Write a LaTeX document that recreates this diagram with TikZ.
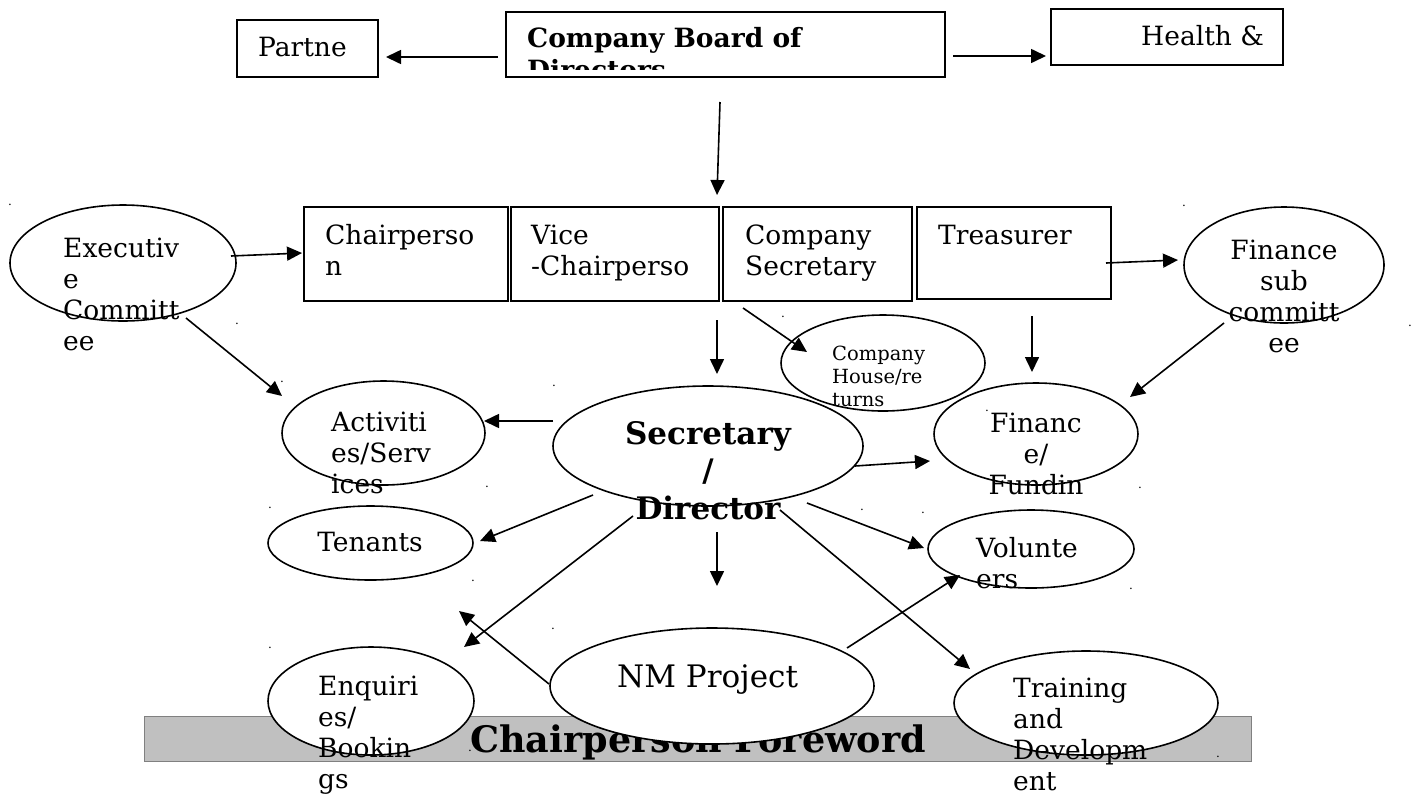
\documentclass[tikz,border=0pt]{standalone}
\usepackage{fontspec}
\setmainfont{DejaVu Serif}
\usetikzlibrary{shapes.geometric,arrows.meta}
\newcommand\strutA{\rule{0pt}{24pt}}
\newcommand\strutB{\rule{0pt}{18pt}}
\newcommand\strutC{\rule{0pt}{28pt}}
\newcommand\strutD{\rule{0pt}{32pt}}
\definecolor{barfill}{RGB}{192,192,192}
\definecolor{barline}{RGB}{128,128,128}
\begin{document}
\begin{tikzpicture}[x=1pt,y=-1pt,
  box/.style={draw, line width=2pt, inner sep=0pt},
  ell/.style={draw, ellipse, fill=white, line width=1.6pt, inner sep=0pt},
  arr/.style={line width=1.6pt, -{Triangle[length=15pt,width=14pt]}},
  lbl/.style={inner sep=0pt, anchor=north west, align=left, font=\fontsize{26.5}{31}\selectfont},
  clbl/.style={lbl, anchor=north, align=center},
  dotm/.style={inner sep=0pt, anchor=base, font=\fontsize{12}{12}\selectfont},
]
\useasboundingbox (0,0) rectangle (1423,796);

% bar
\node[draw=barline, fill=barfill, line width=1pt, minimum width=1107, minimum height=45, inner sep=0pt] (bar) at (697.5,738.5) {};
\node[clbl, font=\fontsize{36.5}{40}\selectfont\bfseries] (bartxt) at (698,720) {\strutD Chairperson Foreword};

% boxes
\node[box, minimum width=141, minimum height=57] (partne) at (307.5,48.5) {};
\node[box, minimum width=439, minimum height=65] (board) at (725.5,44.5) {};
\node[box, minimum width=232, minimum height=56] (health) at (1167,37) {};
\node[box, minimum width=204, minimum height=94] (chair) at (406,254) {};
\node[box, minimum width=208, minimum height=94] (vice) at (615,254) {};
\node[box, minimum width=189, minimum height=94] (cosec) at (817.5,254) {};
\node[box, minimum width=194, minimum height=92] (treas) at (1014,253) {};

% ellipses
\node[ell, minimum width=226, minimum height=116] (exec) at (123,263) {};
\node[ell, minimum width=200, minimum height=116] (finsub) at (1284,265) {};
\node[ell, minimum width=310, minimum height=120] (secdir) at (708,446) {};
\node[ell, minimum width=204, minimum height=96] (cohouse) at (883,363) {};
\node[ell, minimum width=204, minimum height=102] (finfund) at (1036,434) {};
\node[ell, minimum width=203, minimum height=104] (activ) at (383.5,433) {};
\node[ell, minimum width=205, minimum height=74] (tenants) at (370.5,543) {};
\node[ell, minimum width=206, minimum height=78] (volun) at (1031,549) {};
\node[ell, minimum width=324, minimum height=116] (nm) at (712,686) {};
\node[ell, minimum width=206, minimum height=108] (enq) at (371,701) {};
\node[ell, minimum width=264, minimum height=104] (train) at (1086,703) {};

% arrow end points
\coordinate (a1s) at (498,57);   \coordinate (a1e) at (386,57);
\coordinate (a2s) at (953,56);   \coordinate (a2e) at (1046,56);
\coordinate (a3s) at (720,102);  \coordinate (a3e) at (717,195);
\coordinate (a4s) at (231,256);  \coordinate (a4e) at (302,253);
\coordinate (a5s) at (186,318);  \coordinate (a5e) at (282,396);
\coordinate (a6s) at (1106,263); \coordinate (a6e) at (1178,260);
\coordinate (a7s) at (1224,323); \coordinate (a7e) at (1130,397);
\coordinate (a8s) at (743,308);  \coordinate (a8e) at (807,352);
\coordinate (a9s) at (717,320);  \coordinate (a9e) at (717,374);
\coordinate (a10s) at (1032,316); \coordinate (a10e) at (1032,372);
\coordinate (a11s) at (553,421); \coordinate (a11e) at (484,421);
\coordinate (a12s) at (855,466); \coordinate (a12e) at (930,461);
\coordinate (a13s) at (593,495); \coordinate (a13e) at (480,541);
\coordinate (a14s) at (807,503); \coordinate (a14e) at (924,548);
\coordinate (a15s) at (717,532); \coordinate (a15e) at (717,586);
\coordinate (a16s) at (633,516); \coordinate (a16e) at (464,647);
\coordinate (a17s) at (549,684); \coordinate (a17e) at (459,611);
\coordinate (a18s) at (847,648); \coordinate (a18e) at (960,575);
\coordinate (a19s) at (780,510); \coordinate (a19e) at (970,669);

\foreach \i in {1,...,19} {\draw[arr] (a\i s) -- (a\i e);}

% texts
\node[lbl] (partnetxt) at (258,32) {\strutA Partne};
\begin{scope}
\clip (508,14) rectangle (943,69);
\node[lbl, font=\fontsize{26.5}{32}\selectfont\bfseries] (boardtxt) at (527,23) {\strutA Company Board of\\Directors};
\end{scope}
\node[lbl] (healthtxt) at (1141,21) {\strutA Health \&};
\node[lbl] (chairtxt) at (325,220) {\strutA Chairperso\\n};
\node[lbl] (vicetxt) at (531,220) {\strutA Vice\\-Chairperso};
\node[lbl] (cosectxt) at (745,220) {\strutA Company\\Secretary};
\node[lbl] (treastxt) at (938,220) {\strutA Treasurer};
\node[lbl] (exectxt) at (63,233) {\strutA Executiv\\e\\Committ\\ee};
\node[clbl] (finsubtxt) at (1284,235) {\strutA Finance\\sub\\committ\\ee};
\node[lbl, font=\fontsize{19.5}{23}\selectfont] (cohousetxt) at (832,342) {\strutB Company\\House/re\\turns};
\node[clbl, font=\fontsize{31}{37.5}\selectfont\bfseries] (secdirtxt) at (708,416) {\strutC Secretary\\/\\Director};
\node[lbl] (activtxt) at (331,407) {\strutA Activiti\\es/Serv\\ices};
\node[clbl] (finfundtxt) at (1036,408) {\strutA Financ\\e/\\Fundin};
\node[clbl] (tenantstxt) at (370,527) {\strutA Tenants};
\node[lbl] (voluntxt) at (976,533) {\strutA Volunte\\ers};
\node[lbl, font=\fontsize{31}{37}\selectfont] (nmtxt) at (617,659) {\strutC NM Project};
\node[lbl] (enqtxt) at (318,671) {\strutA Enquiri\\es/\\Bookin\\gs};
\node[lbl] (traintxt) at (1013,673) {\strutA Training\\and\\Developm\\ent};

% stray dots
\foreach \n/\px/\py in {d1/10/205, d2/1184/206, d3/237/324, d4/1410/326, d5/783/317,
  d6/282/382, d7/554/386, d8/987/411, d9/487/487, d10/270/508, d11/862/510,
  d12/923/513, d13/1140/488, d14/473/581, d15/1131/589, d16/553/629,
  d17/270/648, d18/963/658, d19/1218/757, d20/470/751}
  {\node[dotm] (\n) at (\px,\py) {.};}
\end{tikzpicture}
\end{document}
